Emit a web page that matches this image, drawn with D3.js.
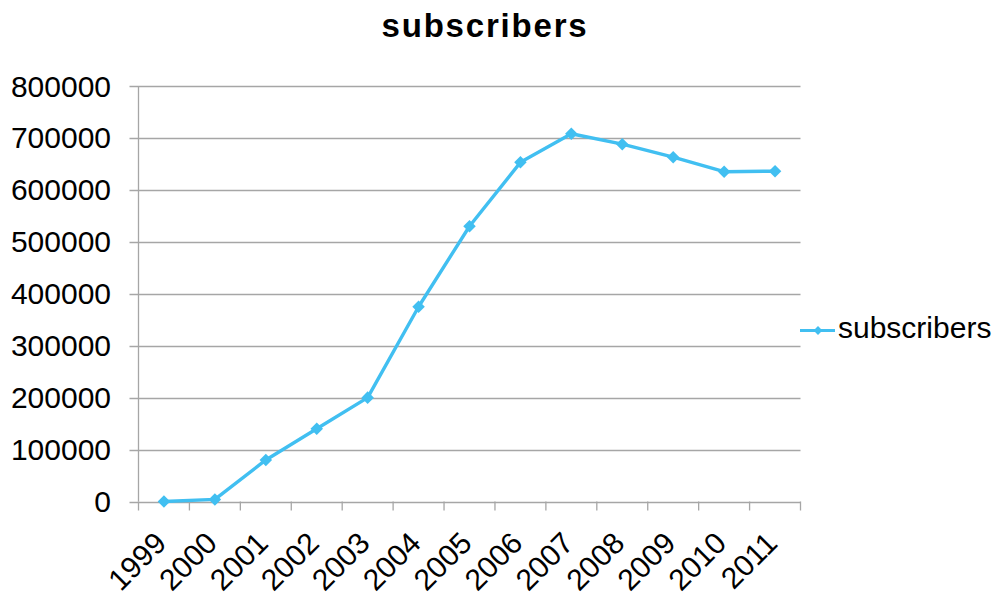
<!DOCTYPE html>
<html>
<head>
<meta charset="utf-8">
<script src="https://cdn.jsdelivr.net/npm/d3@7"></script>
<style>
  body { margin: 0; background: #fff; overflow: hidden; }
  text { font-family: "Liberation Sans", Arial, sans-serif; fill: #000; }
</style>
</head>
<body>
<svg width="997" height="593"></svg>
<script>
// data
var years = ['1999','2000','2001','2002','2003','2004','2005','2006','2007','2008','2009','2010','2011'];
var subscribers = [0, 4000, 80000, 140000, 200000, 375000, 530000, 653000, 708000, 688000, 663000, 635000, 636000];
var yTicks = [0, 100000, 200000, 300000, 400000, 500000, 600000, 700000, 800000];

var blue = '#41bff1';
var svg = d3.select('svg');

var plotLeft = 138.5, plotRight = 800.5, plotTop = 86, plotBottom = 501.5;

var x = d3.scaleBand().domain(years).range([plotLeft, plotRight]);
var y = d3.scaleLinear().domain([0, 800000]).range([plotBottom, plotTop]);

// title
svg.append('text')
   .attr('x', 485)
   .attr('y', 37)
   .attr('text-anchor', 'middle')
   .style('font-size', '33px')
   .style('font-weight', 'bold')
   .style('letter-spacing', '1.8px')
   .text('subscribers');

// gridlines
svg.append('g')
   .selectAll('line')
   .data(yTicks)
   .enter().append('line')
   .attr('x1', plotLeft - 9)
   .attr('x2', plotRight)
   .attr('y1', d => Math.round(y(d)) + 0.5)
   .attr('y2', d => Math.round(y(d)) + 0.5)
   .style('stroke', '#a6a6a6')
   .style('stroke-width', 1.3);

// y labels
svg.append('g')
   .selectAll('text')
   .data(yTicks)
   .enter().append('text')
   .attr('x', 111)
   .attr('y', d => y(d) + 10.5)
   .attr('text-anchor', 'end')
   .style('font-size', '30px')
   .text(d => d);

// y axis line
svg.append('line')
   .attr('x1', plotLeft).attr('x2', plotLeft)
   .attr('y1', plotTop).attr('y2', plotBottom)
   .style('stroke', '#a6a6a6')
   .style('stroke-width', 1.3);

// x axis ticks at band edges
var edges = years.map(d => x(d)).concat([plotRight]);
svg.append('g')
   .selectAll('line')
   .data(edges)
   .enter().append('line')
   .attr('x1', d => d).attr('x2', d => d)
   .attr('y1', plotBottom).attr('y2', plotBottom + 9)
   .style('stroke', '#a6a6a6')
   .style('stroke-width', 1.3);

// x labels
svg.append('g')
   .selectAll('text')
   .data(years)
   .enter().append('text')
   .attr('text-anchor', 'end')
   .attr('transform', d => 'translate(' + (x(d) + x.bandwidth() / 2 + 4) + ',' + 545 + ') rotate(-45)')
   .style('font-size', '30px')
   .text(d => d);

// line
var cx = (d, i) => x(years[i]) + x.bandwidth() / 2;
var line = d3.line()
   .x(cx)
   .y(d => y(d));

svg.append('path')
   .datum(subscribers)
   .attr('d', line)
   .style('fill', 'none')
   .style('stroke', blue)
   .style('stroke-width', 3.4)
   .style('stroke-linejoin', 'round');

var diamond = d3.symbol().type(d3.symbolDiamond2).size(100);
svg.append('g')
   .selectAll('path')
   .data(subscribers)
   .enter().append('path')
   .attr('d', diamond)
   .attr('transform', (d, i) => 'translate(' + cx(d, i) + ',' + y(d) + ')')
   .style('fill', blue);

// legend
var legend = svg.append('g');
legend.append('line')
   .attr('x1', 800).attr('x2', 835)
   .attr('y1', 330.5).attr('y2', 330.5)
   .style('stroke', blue)
   .style('stroke-width', 3);
legend.append('path')
   .attr('d', d3.symbol().type(d3.symbolDiamond2).size(50))
   .attr('transform', 'translate(818,330.5)')
   .style('fill', blue);
legend.append('text')
   .attr('x', 838)
   .attr('y', 338)
   .style('font-size', '30px')
   .text('subscribers');
</script>
</body>
</html>
